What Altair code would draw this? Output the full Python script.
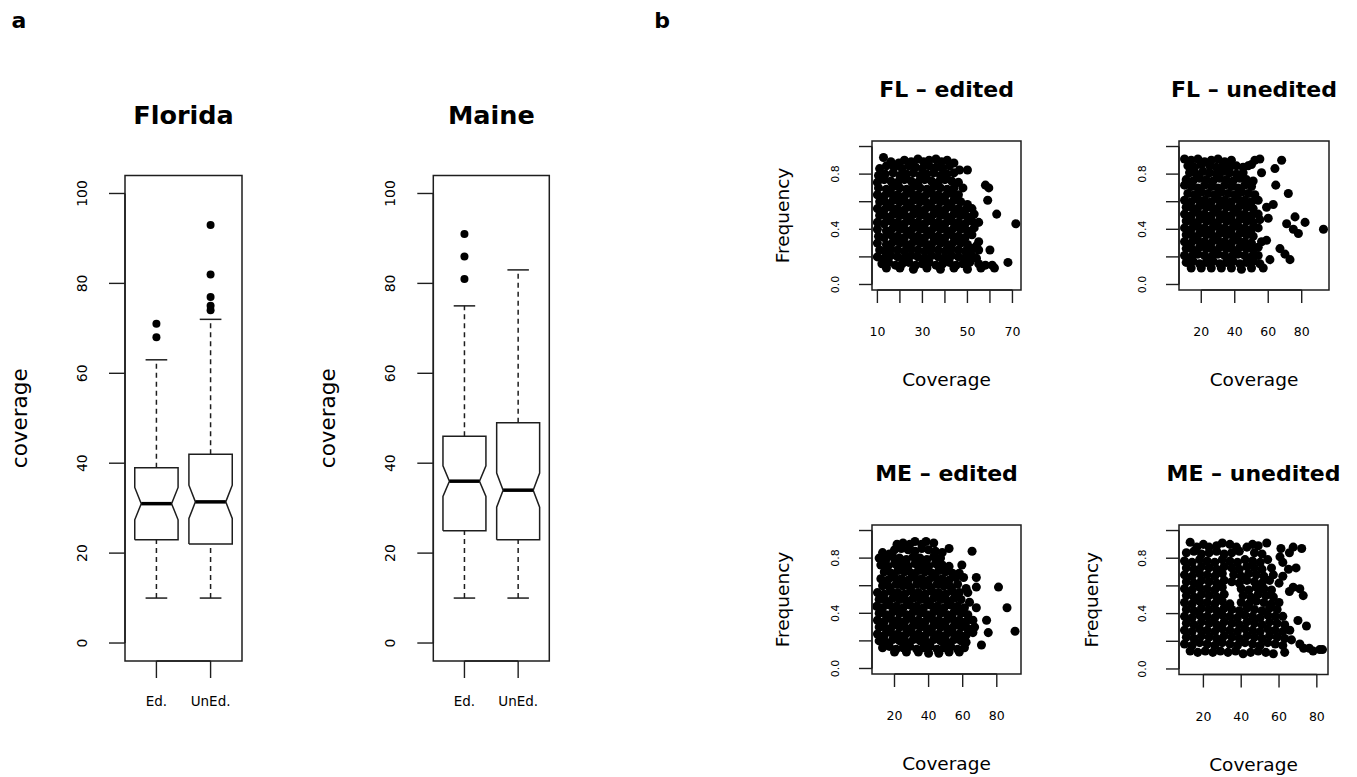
import altair as alt
import pandas as pd

FONT = "DejaVu Sans"
INK = "#1e1e1e"
TEXT = "#000000"

# ---------------- panel a: coverage box plots ----------------
box_groups = ["Ed.", "UnEd."]
box_at = [1, 2]
coverage_ticks = [0, 20, 40, 60, 80, 100]

florida_lo = [10, 10]
florida_q1 = [23, 22]
florida_median = [31, 31.4]
florida_q3 = [39, 42]
florida_hi = [63, 72]
florida_notch_lo = [27.4, 27.7]
florida_notch_hi = [34.6, 35.1]
florida_outliers = [(1, 68), (1, 71), (2, 74), (2, 75), (2, 77), (2, 82), (2, 93)]

maine_lo = [10, 10]
maine_q1 = [25, 23]
maine_median = [36, 34]
maine_q3 = [46, 49]
maine_hi = [75, 83]
maine_notch_lo = [32.6, 30.2]
maine_notch_hi = [39.4, 37.8]
maine_outliers = [(1, 81), (1, 86), (1, 91)]

# ---------------- panel b: frequency vs coverage ----------------
freq_ticks = [0, 0.2, 0.4, 0.6, 0.8, 1.0]
freq_labels = [0.0, 0.4, 0.8]

fl_edited = [
    (12.7, .92), (16, .89), (19.5, .88), (22, .90), (25, .89), (28, .91), (30.5, .89), (33, .90), (36, .91), (38.5, .89), (41, .90), (44, .88),
    (11, .84), (14, .86), (17.5, .85), (21, .84), (24, .86), (27, .85), (30, .84), (33, .86), (36, .85), (39, .84), (42, .86), (46.5, .83), (50, .83),
    (10.5, .79), (13.5, .80), (17, .81), (20, .79), (23, .80), (26, .81), (29, .79), (32, .80), (35, .81), (38, .79), (41, .80), (44, .81),
    (10, .74), (13, .76), (16, .75), (19, .74), (22, .76), (25, .75), (28, .74), (31, .76), (34, .75), (37, .74), (40, .76), (43, .75), (46, .74), (58, .72), (59.5, .70),
    (10.5, .70), (14, .69), (17, .71), (20, .70), (23, .69), (26, .71), (29, .70), (32, .69), (35, .71), (38, .70), (41, .69), (44, .70), (48, .70),
    (10, .65), (13, .64), (16, .66), (19, .65), (22, .64), (25, .66), (28, .65), (31, .64), (34, .66), (37, .65), (40, .64), (43, .66), (46, .65),
    (11, .60), (14, .59), (17, .61), (20, .60), (23, .59), (26, .61), (29, .60), (32, .59), (35, .61), (38, .60), (41, .59), (44, .61), (47, .60), (50, .58), (59, .61),
    (10, .55), (13, .54), (16, .56), (19, .55), (22, .54), (25, .56), (28, .55), (31, .54), (34, .56), (37, .55), (40, .54), (43, .56), (46, .55), (49, .54), (52, .55),
    (11, .50), (14, .49), (17, .51), (20, .50), (23, .49), (26, .51), (29, .50), (32, .49), (35, .51), (38, .50), (41, .49), (44, .51), (47, .50), (50, .49), (53, .51), (63, .51),
    (10, .45), (13, .44), (16, .46), (19, .45), (22, .44), (25, .46), (28, .45), (31, .44), (34, .46), (37, .45), (40, .44), (43, .46), (46, .45), (49, .44), (52, .46), (55, .45), (71.5, .44),
    (10, .40), (14, .39), (17, .41), (20, .40), (23, .39), (26, .41), (29, .40), (32, .39), (35, .41), (38, .40), (41, .39), (44, .41), (47, .40), (50, .39), (53, .41),
    (10.5, .35), (13, .34), (16, .36), (19, .35), (22, .34), (25, .36), (28, .35), (31, .34), (34, .36), (37, .35), (40, .34), (43, .36), (46, .35), (49, .34), (52, .36), (55, .31),
    (10, .30), (14, .29), (17, .31), (20, .30), (23, .29), (26, .31), (29, .30), (32, .29), (35, .31), (38, .30), (41, .29), (44, .31), (47, .30), (50, .29), (54, .28),
    (11, .25), (13.5, .24), (16, .26), (19, .25), (22, .24), (25, .26), (28, .25), (31, .24), (34, .26), (37, .25), (40, .24), (43, .26), (46, .25), (49, .24), (52, .26), (55, .25), (60, .25),
    (10, .20), (13, .19), (16, .21), (19, .20), (22, .19), (25, .21), (28, .20), (31, .19), (34, .21), (37, .20), (40, .19), (43, .21), (46, .20), (49, .19), (52, .21), (54, .19),
    (12, .15), (15, .16), (18, .14), (21, .15), (24, .16), (27, .14), (30, .15), (33, .16), (36, .14), (39, .15), (42, .16), (45, .14), (48, .15), (51, .16), (55, .15), (58, .14), (68, .16),
    (14, .12), (20, .12), (26, .11), (32, .12), (38, .11), (44, .12), (50, .11), (56, .12), (62, .12), (61, .14),
]

fl_unedited = [
    (10, .91), (14, .90), (18, .91), (22, .89), (26, .90), (30, .91), (34, .89), (38, .90), (52, .90), (55, .91), (68, .90),
    (12, .86), (16, .85), (20, .87), (25, .86), (29, .85), (33, .87), (37, .85), (41, .86), (45, .85), (48, .86), (50, .87),
    (13, .81), (17, .80), (21, .82), (25, .81), (29, .80), (33, .82), (37, .81), (41, .80), (45, .81), (56, .81), (64, .84),
    (11, .76), (15, .75), (19, .77), (23, .76), (27, .75), (31, .77), (35, .76), (39, .75), (43, .77), (47, .76), (51, .75),
    (10, .72), (14, .71), (18, .70), (22, .72), (26, .71), (30, .70), (34, .72), (38, .71), (42, .70), (46, .72), (50, .71), (64.5, .72),
    (12, .66), (16, .65), (20, .67), (24, .66), (28, .65), (32, .67), (36, .66), (40, .65), (44, .67), (48, .66), (52, .65), (72, .66),
    (10, .61), (14, .60), (18, .62), (22, .61), (26, .60), (30, .62), (34, .61), (38, .60), (42, .62), (46, .61), (50, .60), (54, .61),
    (11, .56), (15, .55), (19, .57), (23, .56), (27, .55), (31, .57), (35, .56), (39, .55), (43, .57), (47, .56), (51, .55), (59, .56), (63, .58),
    (10, .51), (14, .50), (18, .52), (22, .51), (26, .50), (30, .52), (34, .51), (38, .50), (42, .52), (46, .51), (50, .50), (54, .51),
    (11, .46), (15, .45), (19, .47), (23, .46), (27, .45), (31, .47), (35, .46), (39, .45), (43, .47), (47, .46), (51, .45), (55, .47), (60, .48), (76, .49), (82, .45),
    (10, .41), (14, .40), (18, .42), (22, .41), (26, .40), (30, .42), (34, .41), (38, .40), (42, .42), (46, .41), (50, .40), (54, .41), (71, .44), (75, .40), (93, .40),
    (11, .36), (15, .35), (19, .37), (23, .36), (27, .35), (31, .37), (35, .36), (39, .35), (43, .37), (47, .36), (51, .35), (78, .37),
    (10, .31), (14, .30), (18, .32), (22, .31), (26, .30), (30, .32), (34, .31), (38, .30), (42, .32), (46, .31), (50, .30), (56, .31), (59, .32),
    (11, .26), (15, .25), (19, .27), (23, .26), (27, .25), (31, .27), (35, .26), (39, .25), (43, .27), (47, .26), (51, .25), (54, .27), (67, .26),
    (10, .21), (14, .20), (18, .22), (22, .21), (26, .20), (30, .22), (34, .21), (38, .20), (42, .22), (46, .21), (50, .20), (54, .21), (70, .22),
    (11, .16), (15, .17), (19, .15), (23, .16), (27, .17), (31, .15), (35, .16), (39, .17), (43, .15), (47, .16), (51, .17), (55, .15), (61, .18), (73, .18),
    (14, .12), (20, .12), (26, .12), (32, .12), (38, .12), (44, .11), (50, .12), (57, .12),
]

me_edited = [
    (21.5, .90), (25, .91), (29, .90), (32, .92), (36, .90), (38.5, .92), (43, .91), (52, .87), (65.5, .85),
    (13, .84), (17, .83), (20, .86), (24, .87), (28, .86), (32, .85), (36, .87), (40, .86), (44, .85), (48, .84),
    (11, .80), (15, .79), (19, .81), (23, .80), (27, .79), (31, .81), (35, .80), (39, .79), (43, .81), (47, .80),
    (12, .75), (16, .74), (20, .76), (24, .75), (28, .74), (32, .76), (36, .75), (40, .74), (44, .76), (48, .75), (52, .74), (59.5, .75),
    (14, .70), (18, .69), (22, .71), (26, .70), (30, .69), (34, .71), (38, .70), (42, .69), (46, .71), (50, .70), (54, .69), (58, .69), (60.5, .66),
    (12, .65), (16, .64), (20, .66), (24, .65), (28, .64), (32, .66), (36, .65), (40, .64), (44, .66), (48, .65), (52, .64), (56, .66), (68, .66),
    (13, .60), (17, .59), (21, .61), (25, .60), (29, .59), (33, .61), (37, .60), (41, .59), (45, .61), (49, .60), (53, .59), (57, .61), (62, .58), (68, .59), (81, .59),
    (10, .55), (14, .54), (18, .56), (22, .55), (26, .54), (30, .56), (34, .55), (38, .54), (42, .56), (46, .55), (50, .54), (54, .56), (58, .55), (63, .55),
    (11, .50), (15, .49), (19, .51), (23, .50), (27, .49), (31, .51), (35, .50), (39, .49), (43, .51), (47, .50), (51, .49), (55, .51), (59, .50), (64, .48),
    (9.5, .45), (13, .44), (17, .46), (21, .45), (25, .44), (29, .46), (33, .45), (37, .44), (41, .46), (45, .45), (49, .44), (53, .46), (57, .45), (61, .44), (68, .44), (86, .44),
    (11, .40), (15, .39), (19, .41), (23, .40), (27, .39), (31, .41), (35, .40), (39, .39), (43, .41), (47, .40), (51, .39), (55, .41), (59, .40), (63, .39),
    (10, .35), (14, .34), (18, .36), (22, .35), (26, .34), (30, .36), (34, .35), (38, .34), (42, .36), (46, .35), (50, .34), (54, .36), (58, .35), (62, .34), (66, .35), (74, .35),
    (11, .30), (15, .29), (19, .31), (23, .30), (27, .29), (31, .31), (35, .30), (39, .29), (43, .31), (47, .30), (51, .29), (55, .31), (59, .30), (63, .29), (67, .30),
    (10, .25), (14, .24), (18, .26), (22, .25), (26, .24), (30, .26), (34, .25), (38, .24), (42, .26), (46, .25), (50, .24), (54, .26), (58, .25), (62, .24), (66, .26), (75, .26), (90.7, .27),
    (11, .20), (15, .19), (19, .21), (23, .20), (27, .19), (31, .21), (35, .20), (39, .19), (43, .21), (47, .20), (51, .19), (55, .21), (59, .20), (62, .19),
    (13, .15), (17, .16), (21, .14), (25, .15), (29, .16), (33, .14), (37, .15), (41, .16), (45, .14), (49, .15), (53, .16), (57, .14), (61, .15), (71, .17),
    (20, .12), (27, .12), (34, .12), (40, .11), (46, .11), (52, .12), (58, .12),
]

me_unedited = [
    (13, .915), (16.5, .88), (20, .90), (23, .88), (27, .89), (30, .91), (34, .90), (37.5, .88), (43, .88), (46, .90), (49, .89), (53.5, .91), (61, .87), (67.5, .88), (72, .87),
    (11, .84), (15, .85), (19, .83), (23, .84), (27, .85), (31, .83), (35, .84), (39, .85), (47, .84), (51, .83), (60.5, .81), (65.5, .84),
    (10, .78), (14, .77), (18, .79), (22, .78), (26, .77), (30, .79), (34, .78), (38, .77), (42, .79), (46, .78), (50, .77), (54, .79), (62, .77),
    (11, .73), (15, .72), (19, .74), (23, .73), (27, .72), (31, .74), (35, .73), (39, .72), (43, .74), (47, .73), (51, .72), (56, .73), (65, .72), (69, .73),
    (10, .68), (14, .67), (18, .69), (22, .68), (26, .67), (30, .69), (36, .68), (40, .67), (44, .69), (48, .68), (52, .67), (57, .68), (62, .67),
    (11, .63), (15, .62), (19, .64), (23, .63), (27, .62), (31, .64), (35, .63), (39, .62), (43, .64), (47, .63), (51, .62), (55, .64), (60, .62),
    (10, .58), (14, .57), (18, .59), (22, .58), (26, .57), (30, .59), (40, .58), (44, .57), (48, .59), (52, .58), (56, .57), (65.5, .56), (67.5, .59), (71, .58),
    (11, .53), (15, .52), (19, .54), (23, .53), (27, .52), (31, .54), (41, .53), (45, .52), (49, .54), (53, .53), (57, .52), (72.8, .53),
    (10, .48), (14, .47), (18, .49), (22, .48), (26, .47), (30, .49), (34, .47), (40, .48), (44, .47), (48, .49), (52, .48), (56, .47), (60, .48),
    (11, .43), (15, .42), (19, .44), (23, .43), (27, .42), (31, .44), (35, .43), (39, .42), (43, .44), (47, .43), (51, .42), (55, .44), (59, .43),
    (10, .38), (14, .37), (18, .39), (22, .38), (26, .37), (30, .39), (34, .38), (38, .37), (42, .39), (46, .38), (50, .37), (54, .39), (58, .38), (62, .38),
    (11, .33), (15, .32), (19, .34), (23, .33), (27, .32), (31, .34), (35, .33), (39, .32), (43, .34), (47, .33), (51, .32), (55, .34), (59, .33), (63, .32), (70, .35), (74.5, .31),
    (10, .28), (14, .27), (18, .29), (22, .28), (26, .27), (30, .29), (34, .28), (38, .27), (42, .29), (46, .28), (50, .27), (54, .29), (58, .28), (62, .27), (65.7, .28),
    (11, .23), (15, .22), (19, .24), (23, .23), (27, .22), (31, .24), (35, .23), (39, .22), (43, .24), (47, .23), (51, .22), (55, .24), (59, .23), (63, .22), (66.6, .21),
    (10, .18), (14, .17), (18, .19), (22, .18), (26, .17), (30, .19), (34, .18), (38, .17), (42, .19), (46, .18), (50, .17), (54, .19), (58, .18), (62, .17), (71, .18),
    (13, .13), (17, .12), (21, .13), (25, .12), (29, .13), (33, .12), (37, .13), (41, .11), (45, .12), (49, .13), (53, .12), (57, .11), (63, .12), (73, .15), (76, .15), (78, .13), (81.5, .14), (83, .14),
]

BOX_HALF = 0.4
NOTCH_HALF = 0.28
CAP_HALF = 0.2
OUTLIER_DOT = 64
SCATTER_DOT = 82


def scale(domain, rng):
    return alt.Scale(domain=domain, range=rng, nice=False, zero=False)


def qx(field, s):
    return alt.X(field, type="quantitative", scale=s, axis=None)


def qy(field, s):
    return alt.Y(field, type="quantitative", scale=s, axis=None)


def frame(xd, yd, xs, ys):
    df = pd.DataFrame({"x0": [xd[0]], "x1": [xd[1]], "y0": [yd[0]], "y1": [yd[1]]})
    return alt.Chart(df).mark_rect(fillOpacity=0, stroke=INK, strokeWidth=1.5).encode(
        x=qx("x0", xs), x2="x1", y=qy("y0", ys), y2="y1")


def left_axis(edge, xs, ys, ticks, labels, texts, tick_len, lab_off, fs):
    line = alt.Chart(pd.DataFrame({"x": [edge], "a": [ticks[0]], "b": [ticks[-1]]})).mark_rule(
        color=INK, strokeWidth=1.5).encode(x=qx("x", xs), y=qy("a", ys), y2="b")
    tk = alt.Chart(pd.DataFrame({"x": [edge] * len(ticks), "v": ticks})).mark_rule(
        color=INK, strokeWidth=1.4, x2Offset=-tick_len).encode(x=qx("x", xs), x2="x", y=qy("v", ys))
    lb = alt.Chart(pd.DataFrame({"x": [edge] * len(labels), "v": labels, "t": texts})).mark_text(
        angle=270, align="center", baseline="middle", xOffset=-lab_off, font=FONT, fontSize=fs,
        color=TEXT).encode(x=qx("x", xs), y=qy("v", ys), text="t:N")
    return [line, tk, lb]


def bottom_axis(edge, xs, ys, ticks, labels, texts, tick_len, lab_off, fs):
    line = alt.Chart(pd.DataFrame({"y": [edge], "a": [ticks[0]], "b": [ticks[-1]]})).mark_rule(
        color=INK, strokeWidth=1.7).encode(y=qy("y", ys), x=qx("a", xs), x2="b")
    tk = alt.Chart(pd.DataFrame({"y": [edge] * len(ticks), "v": ticks})).mark_rule(
        color=INK, strokeWidth=1.4, y2Offset=tick_len).encode(y=qy("y", ys), y2="y", x=qx("v", xs))
    lb = alt.Chart(pd.DataFrame({"y": [edge] * len(labels), "v": labels, "t": texts})).mark_text(
        align="center", baseline="middle", yOffset=lab_off, font=FONT, fontSize=fs,
        color=TEXT).encode(x=qx("v", xs), y=qy("y", ys), text="t:N")
    return [line, tk, lb]


def label(xv, yv, xs, ys, text, **props):
    df = pd.DataFrame({"x": [xv], "y": [yv], "t": [text]})
    return alt.Chart(df).mark_text(font=FONT, color=TEXT, **props).encode(
        x=qx("x", xs), y=qy("y", ys), text="t:N")


def box_panel(title, lo, q1, med, q3, hi, nlo, nhi, outliers, x_px):
    xd, yd = [0.42, 2.58], [-4, 104]
    xs, ys = scale(xd, x_px), scale(yd, [661, 175.5])

    outline = []
    for i, at in enumerate(box_at):
        w, n = BOX_HALF, NOTCH_HALF
        pts = [(at - w, q1[i]), (at + w, q1[i]), (at + w, nlo[i]), (at + n, med[i]),
               (at + w, nhi[i]), (at + w, q3[i]), (at - w, q3[i]), (at - w, nhi[i]),
               (at - n, med[i]), (at - w, nlo[i]), (at - w, q1[i])]
        for k, (px, py) in enumerate(pts):
            outline.append({"g": box_groups[i], "k": k, "x": px, "y": py})
    boxes = alt.Chart(pd.DataFrame(outline)).mark_line(
        color=INK, strokeWidth=1.5, strokeJoin="miter").encode(
        x=qx("x", xs), y=qy("y", ys), detail="g:N", order="k:Q")

    stats = pd.DataFrame({
        "at": box_at, "lo": lo, "q1": q1, "med": med, "q3": q3, "hi": hi,
        "ml": [a - NOTCH_HALF for a in box_at], "mr": [a + NOTCH_HALF for a in box_at],
        "cl": [a - CAP_HALF for a in box_at], "cr": [a + CAP_HALF for a in box_at],
    })
    base = alt.Chart(stats)
    medians = base.mark_rule(color="black", strokeWidth=3.5).encode(
        x=qx("ml", xs), x2="mr", y=qy("med", ys))
    upper = base.mark_rule(color=INK, strokeWidth=1.5, strokeDash=[5, 4]).encode(
        x=qx("at", xs), y=qy("q3", ys), y2="hi")
    lower = base.mark_rule(color=INK, strokeWidth=1.5, strokeDash=[5, 4]).encode(
        x=qx("at", xs), y=qy("lo", ys), y2="q1")
    cap_hi = base.mark_rule(color=INK, strokeWidth=1.5).encode(x=qx("cl", xs), x2="cr", y=qy("hi", ys))
    cap_lo = base.mark_rule(color=INK, strokeWidth=1.5).encode(x=qx("cl", xs), x2="cr", y=qy("lo", ys))
    outs = alt.Chart(pd.DataFrame(outliers, columns=["at", "v"])).mark_circle(
        color="black", opacity=1, size=OUTLIER_DOT).encode(x=qx("at", xs), y=qy("v", ys))

    layers = [frame(xd, yd, xs, ys), boxes, medians, upper, lower, cap_hi, cap_lo, outs]
    layers += left_axis(xd[0], xs, ys, coverage_ticks, coverage_ticks,
                        [str(v) for v in coverage_ticks], 16, 42, 14)
    layers += bottom_axis(yd[0], xs, ys, box_at, box_at, box_groups, 17, 41, 13.5)
    layers.append(label(xd[0], 50, xs, ys, "coverage", angle=270, align="center",
                        baseline="middle", xOffset=-104, fontSize=21.5))
    layers.append(label(1.5, yd[1], xs, ys, title, align="center", baseline="alphabetic",
                        yOffset=-52, fontSize=25.5, fontWeight="bold"))
    return alt.layer(*layers)


def scatter_panel(title, pts, xd, x_px, y_px, xticks, xlabels, freq_off):
    yd = [-0.04, 1.04]
    xs, ys = scale(xd, x_px), scale(yd, y_px)
    dots = alt.Chart(pd.DataFrame(pts, columns=["cov", "freq"])).mark_circle(
        color="black", opacity=1, size=SCATTER_DOT).encode(x=qx("cov", xs), y=qy("freq", ys))
    layers = [dots, frame(xd, yd, xs, ys)]
    layers += left_axis(xd[0], xs, ys, freq_ticks, freq_labels,
                        [f"{v:.1f}" for v in freq_labels], 13, 36, 11)
    layers += bottom_axis(yd[0], xs, ys, xticks, xlabels, [str(v) for v in xlabels], 13, 42, 12.5)
    xm = (xd[0] + xd[1]) / 2
    layers.append(label(xm, yd[0], xs, ys, "Coverage", align="center", baseline="middle",
                        yOffset=90, fontSize=18.5))
    if freq_off:
        layers.append(label(xd[0], 0.5, xs, ys, "Frequency", angle=270, align="center",
                            baseline="middle", xOffset=-freq_off, fontSize=18.5))
    layers.append(label(xm, yd[1], xs, ys, title, align="center", baseline="alphabetic",
                        yOffset=-44, fontSize=22, fontWeight="bold"))
    return alt.layer(*layers)


panels = [
    box_panel("Florida", florida_lo, florida_q1, florida_median, florida_q3, florida_hi,
              florida_notch_lo, florida_notch_hi, florida_outliers, [125, 242]),
    box_panel("Maine", maine_lo, maine_q1, maine_median, maine_q3, maine_hi,
              maine_notch_lo, maine_notch_hi, maine_outliers, [433.3, 549.3]),
    scatter_panel("FL – edited", fl_edited, [7.6, 73.8], [872, 1021], [290, 141],
                  [10, 20, 30, 40, 50, 60, 70], [10, 30, 50, 70], 89),
    scatter_panel("FL – unedited", fl_unedited, [6.7, 96.3], [1179, 1329], [290, 141],
                  [20, 40, 60, 80], [20, 40, 60, 80], 0),
    scatter_panel("ME – edited", me_edited, [6.8, 94.2], [872, 1021], [674, 525],
                  [20, 40, 60, 80], [20, 40, 60, 80], 89),
    scatter_panel("ME – unedited", me_unedited, [7.1, 85.9], [1179, 1328], [674.5, 525],
                  [20, 40, 60, 80], [20, 40, 60, 80], 87),
]

letters = [
    alt.Chart(pd.DataFrame({"t": [t]})).mark_text(
        font=FONT, fontSize=22, fontWeight="bold", color="black", align="center",
        baseline="alphabetic").encode(x=alt.value(px), y=alt.value(28), text="t:N")
    for t, px in [("a", 19), ("b", 662)]
]

chart = alt.layer(*panels, *letters).resolve_scale(
    x="independent", y="independent"
).properties(
    width=1357, height=777,
    autosize=alt.AutoSizeParams(type="none"),
    padding=0,
).configure_view(stroke=None)

chart.save("out.html", embed_options={"renderer": "svg", "actions": False})
